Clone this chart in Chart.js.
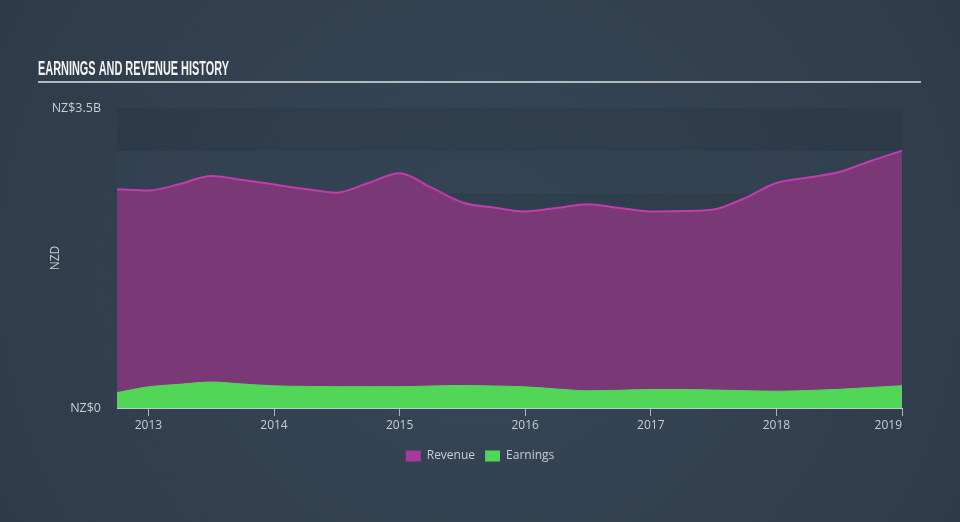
<!DOCTYPE html>
<html><head><meta charset="utf-8">
<script src="https://cdn.jsdelivr.net/npm/chart.js@4.4.1/dist/chart.umd.min.js"></script>
<style>html,body{margin:0;padding:0;background:#334251;}canvas{display:block}</style>
</head><body>
<canvas id="c" width="960" height="522"></canvas>
<script>
// ---- data (values in NZ$ billions) ----
const periods = [2012.75, 2013.0, 2013.25, 2013.5, 2013.75, 2014.0, 2014.25, 2014.5, 2014.75,
  2015.0, 2015.25, 2015.5, 2015.75, 2016.0, 2016.25, 2016.5, 2016.75, 2017.0, 2017.25, 2017.5,
  2017.75, 2018.0, 2018.25, 2018.5, 2018.75, 2019.0];
const revenue = [2.552, 2.538, 2.613, 2.707, 2.660, 2.608, 2.555, 2.512, 2.625, 2.738, 2.573,
  2.398, 2.339, 2.293, 2.334, 2.377, 2.334, 2.293, 2.298, 2.316, 2.450, 2.625, 2.689, 2.753, 2.882, 3.002];
const earnings = [0.179, 0.247, 0.277, 0.303, 0.280, 0.259, 0.252, 0.249, 0.249, 0.249, 0.257,
  0.263, 0.257, 0.247, 0.222, 0.201, 0.207, 0.216, 0.216, 0.210, 0.202, 0.196, 0.204, 0.218, 0.239, 0.260];
const yearTicks = [2013, 2014, 2015, 2016, 2017, 2018, 2019];
const yTickValues = [0, 3.5];
const yTickLabels = ['NZ$0', 'NZ$3.5B'];
const seriesNames = ['Revenue', 'Earnings'];
const bandEdges = [3.5, 3.0, 2.5, 2.0, 1.5, 1.0, 0.5, 0];

const TXT = '#c9cdd3';
const FONT = 'Open Sans';

const backdrop = {
  id: 'backdrop',
  beforeDraw(chart) {
    const {ctx, width, height, chartArea, scales} = chart;
    ctx.save();
    const g = ctx.createRadialGradient(480, 270, 0, 480, 270, 620);
    g.addColorStop(0, '#374859');
    g.addColorStop(1, '#2d3946');
    ctx.fillStyle = g;
    ctx.fillRect(0, 0, width, height);
    // bands
    for (let i = 0; i < bandEdges.length - 1; i++) {
      const y1 = scales.y.getPixelForValue(bandEdges[i]);
      const y2 = scales.y.getPixelForValue(bandEdges[i + 1]);
      ctx.fillStyle = i % 2 === 0 ? 'rgba(42,55,69,0.45)' : 'rgba(52,67,83,0.6)';
      ctx.fillRect(chartArea.left, y1, chartArea.right - chartArea.left, y2 - y1);
    }
    // title
    ctx.fillStyle = '#f2f2f2';
    ctx.font = 'bold 21px "Liberation Sans", "DejaVu Sans", sans-serif';
    ctx.textBaseline = 'alphabetic';
    const t = 'EARNINGS AND REVENUE HISTORY';
    const w = ctx.measureText(t).width;
    ctx.translate(38, 74.5);
    ctx.scale(191 / w, 1);
    ctx.fillText(t, 0, 0);
    ctx.setTransform(1, 0, 0, 1, 0, 0);
    ctx.fillStyle = '#b3b9c1';
    ctx.fillRect(38, 81, 883, 2);
    ctx.restore();
  }
};

const legendColors = ['#a6399c', '#4fd656'];

new Chart(document.getElementById('c'), {
  type: 'line',
  data: {
    datasets: [
      { label: seriesNames[0], data: periods.map((p, i) => ({x: p, y: revenue[i]})),
        borderColor: '#c23cab', backgroundColor: '#7b3877', borderWidth: 2,
        fill: 'origin', pointRadius: 0, cubicInterpolationMode: 'monotone', order: 2 },
      { label: seriesNames[1], data: periods.map((p, i) => ({x: p, y: earnings[i]})),
        borderColor: '#51d658', backgroundColor: '#51d658', borderWidth: 1,
        fill: 'origin', pointRadius: 0, cubicInterpolationMode: 'monotone', order: 1 }
    ]
  },
  options: {
    responsive: false,
    animation: false,
    layout: { padding: { top: 108, bottom: 50, left: 0, right: 0 } },
    plugins: {
      tooltip: { enabled: false },
      legend: {
        position: 'bottom',
        labels: {
          boxWidth: 15, boxHeight: 11, padding: 10, color: TXT,
          font: { family: FONT, size: 12 },
          generateLabels: (chart) => chart.data.datasets.map((d, i) => ({
            text: d.label, fillStyle: legendColors[i], strokeStyle: legendColors[i],
            lineWidth: 0, datasetIndex: i, hidden: false, fontColor: TXT
          }))
        }
      }
    },
    scales: {
      x: {
        type: 'linear', min: periods[0], max: periods[periods.length - 1],
        afterBuildTicks: (s) => { s.ticks = [periods[0], ...yearTicks].map(v => ({value: v})); },
        ticks: {
          align: 'inner', maxRotation: 0, autoSkip: false, color: TXT, padding: 2,
          font: { family: FONT, size: 12 },
          callback: (v) => yearTicks.includes(v) ? String(v) : ''
        },
        grid: {
          drawOnChartArea: false, tickLength: 8, lineWidth: 1,
          color: (c) => (c.tick && yearTicks.includes(c.tick.value)) ? '#aab1ba' : 'rgba(0,0,0,0)'
        },
        border: { display: true, color: '#c3c9d0', width: 1 },
        afterFit: (s) => { s.height = 32; }
      },
      y: {
        min: 0, max: 3.5,
        afterBuildTicks: (s) => { s.ticks = yTickValues.map(v => ({value: v})); },
        ticks: {
          color: TXT, padding: 16, font: { family: FONT, size: 12.5 },
          callback: (v) => yTickLabels[yTickValues.indexOf(v)]
        },
        grid: { display: false, drawTicks: false },
        border: { display: false },
        title: { display: true, text: 'NZD', color: TXT, font: { family: FONT, size: 12 }, padding: { top: 48, bottom: 0 } },
        afterFit: (s) => { s.width = 117; }
      },
      yR: {
        position: 'right', display: true,
        ticks: { display: false }, grid: { display: false, drawTicks: false }, border: { display: false },
        afterFit: (s) => { s.width = 58; }
      }
    }
  },
  plugins: [backdrop]
});
</script>
</body></html>
